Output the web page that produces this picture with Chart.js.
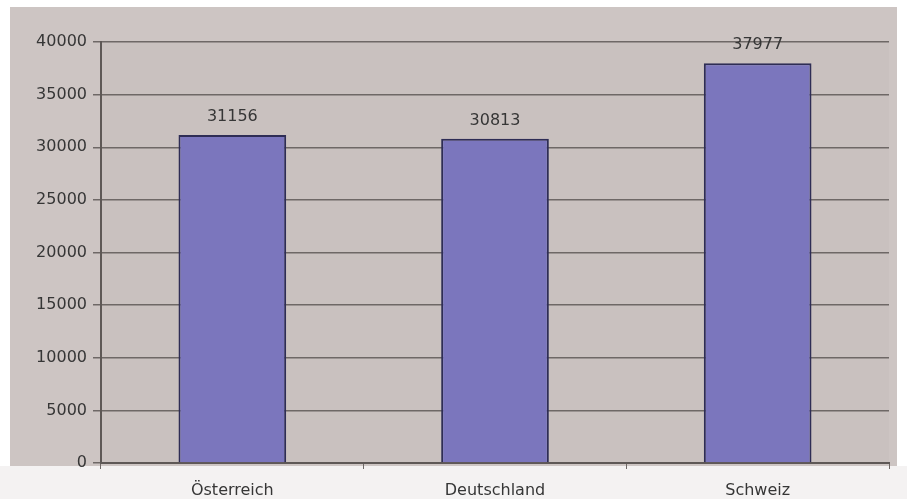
<!DOCTYPE html>
<html>
<head>
<meta charset="utf-8">
<script src="https://cdn.jsdelivr.net/npm/chart.js@4.4.1/dist/chart.umd.min.js"></script>
<style>
  html, body { margin: 0; padding: 0; background: #f4f2f2; }
  #wrap { width: 907px; height: 499px; position: relative; }
</style>
</head>
<body>
<div id="wrap"><canvas id="c" width="907" height="499"></canvas></div>
<script>
const categories = ["Österreich", "Deutschland", "Schweiz"];
const values = [31156, 30813, 37977];
const yTicks = [0, 5000, 10000, 15000, 20000, 25000, 30000, 35000, 40000];

const bgPlugin = {
  id: 'bg',
  beforeDraw(chart) {
    const { ctx, chartArea: a, width } = chart;
    ctx.save();
    ctx.fillStyle = '#ffffff';
    ctx.fillRect(0, 0, width, a.bottom + 3);
    ctx.fillStyle = '#cdc5c3';
    ctx.fillRect(10, 7, width - 20, a.bottom - 4);
    ctx.fillStyle = '#c9c1bf';
    ctx.fillRect(a.left, a.top, a.right - a.left, a.bottom - a.top);
    ctx.restore();
  }
};

const labelPlugin = {
  id: 'vals',
  afterDatasetsDraw(chart) {
    const { ctx } = chart;
    const meta = chart.getDatasetMeta(0);
    ctx.save();
    ctx.font = '16px "DejaVu Sans"';
    ctx.fillStyle = '#363636';
    ctx.textAlign = 'center';
    ctx.textBaseline = 'bottom';
    meta.data.forEach((bar, i) => {
      ctx.fillText(String(values[i]), bar.x, bar.y - 10);
    });
    ctx.restore();
  }
};

new Chart(document.getElementById('c'), {
  type: 'bar',
  data: {
    labels: categories,
    datasets: [{
      data: values,
      backgroundColor: '#7b76bd',
      borderColor: '#2e2d55',
      borderWidth: 2,
      categoryPercentage: 1,
      barPercentage: 0.41
    }]
  },
  options: {
    responsive: false,
    animation: false,
    devicePixelRatio: 1,
    layout: { padding: { top: 42, right: 18, bottom: 0, left: 0 } },
    plugins: { legend: { display: false }, tooltip: { enabled: false } },
    scales: {
      x: {
        afterFit(s) { s.height = 36; },
        grid: { display: true, drawOnChartArea: false, offset: true, color: '#6e6866', tickLength: 6 },
        border: { display: true, color: '#5e5856', width: 2 },
        ticks: { color: '#363636', font: { family: 'DejaVu Sans', size: 16 }, padding: 12 }
      },
      y: {
        min: 0, max: 40000,
        afterFit(s) { s.width = 101; },
        afterBuildTicks(s) { s.ticks = yTicks.map(v => ({ value: v })); },
        grid: { color: '#6e6866', lineWidth: 1.5, tickLength: 8 },
        border: { display: true, color: '#5e5856', width: 2 },
        ticks: {
          color: '#363636', font: { family: 'DejaVu Sans', size: 16 }, padding: 6,
          callback: v => String(v)
        }
      }
    }
  },
  plugins: [bgPlugin, labelPlugin]
});
</script>
</body>
</html>
